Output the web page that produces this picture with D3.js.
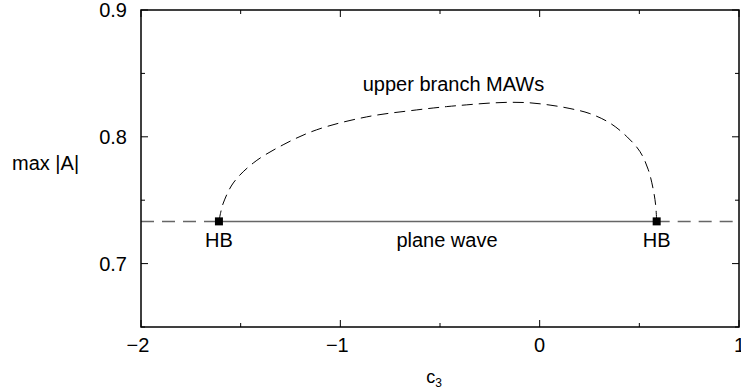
<!DOCTYPE html>
<html>
<head>
<meta charset="utf-8">
<script src="https://cdn.jsdelivr.net/npm/d3@7"></script>
<style>
  body { margin: 0; background: #fff; }
  text { font-family: "Liberation Sans", Arial, sans-serif; fill: #000; }
</style>
</head>
<body>
<div id="chart"></div>
<script>
const xTicks = [-2, -1, 0, 1];
const yTicks = [0.7, 0.8, 0.9];
const xMinor = [-1.5, -0.5, 0.5];
const yMinor = [0.65, 0.75, 0.85];

// Hopf bifurcation points on the plane wave branch
const hbPoints = [[-1.609, 0.7333], [0.587, 0.7333]];
const planeWaveA = 0.7333;

// upper branch of modulated amplitude waves (c3, max|A|)
const mawC3 = [-1.609, -1.600, -1.587, -1.537, -1.437, -1.287, -1.119, -0.868, -0.617, -0.467,
    -0.366, -0.259, -0.149, -0.049, 0.052, 0.152, 0.252, 0.353, 0.437, 0.503, 0.545, 0.570, 0.582, 0.587];
const mawA = [0.7333, 0.7405, 0.7478, 0.7636, 0.7793, 0.7937, 0.8055, 0.8157, 0.8212, 0.8238,
    0.8252, 0.8265, 0.8272, 0.8268, 0.8250, 0.8223, 0.8183, 0.8108, 0.8002, 0.7884, 0.7740, 0.7583, 0.7460, 0.7333];

const ctx = {
    w: 741, h: 389,
    margin: {top: 10, right: 2, bottom: 62, left: 141}
};

const svg = d3.select("#chart").append("svg")
    .attr("width", ctx.w)
    .attr("height", ctx.h);

const iw = ctx.w - ctx.margin.left - ctx.margin.right;
const ih = ctx.h - ctx.margin.top - ctx.margin.bottom;

const g = svg.append("g")
    .attr("transform", "translate(" + ctx.margin.left + "," + ctx.margin.top + ")");

const x = d3.scaleLinear().domain([-2, 1]).range([0, iw]);
const y = d3.scaleLinear().domain([0.65, 0.9]).range([ih, 0]);

// plane wave: dashed outside HBs, solid in between
const pwLine = d3.line().x(d => x(d[0])).y(d => y(d[1]));
g.append("path")
    .attr("d", pwLine([[-2, planeWaveA], [hbPoints[0][0], planeWaveA]]))
    .attr("stroke", "#666").attr("stroke-width", 1.5).attr("fill", "none")
    .attr("stroke-dasharray", "13,8");
g.append("path")
    .attr("d", pwLine([[hbPoints[1][0], planeWaveA], [1, planeWaveA]]))
    .attr("stroke", "#666").attr("stroke-width", 1.5).attr("fill", "none")
    .attr("stroke-dasharray", "13,8");
g.append("path")
    .attr("d", pwLine([[hbPoints[0][0], planeWaveA], [hbPoints[1][0], planeWaveA]]))
    .attr("stroke", "#666").attr("stroke-width", 1.5).attr("fill", "none");

// MAW branch
const mawData = mawC3.map((c, i) => [c, mawA[i]]);
g.append("path")
    .attr("d", d3.line().curve(d3.curveCatmullRom).x(d => x(d[0])).y(d => y(d[1]))(mawData))
    .attr("stroke", "#000").attr("stroke-width", 1).attr("fill", "none")
    .attr("stroke-dasharray", "11,6");

// HB markers
g.selectAll(".hb")
    .data(hbPoints)
    .enter()
    .append("rect")
    .attr("x", d => x(d[0]) - 4)
    .attr("y", d => y(d[1]) - 4)
    .attr("width", 8).attr("height", 8)
    .attr("fill", "#000");

g.selectAll(".hbLabel")
    .data(hbPoints)
    .enter()
    .append("text")
    .attr("x", d => x(d[0]))
    .attr("y", d => y(d[1]) + 26)
    .attr("text-anchor", "middle")
    .style("font-size", "20px")
    .text("HB");

g.append("text")
    .attr("x", x(-0.465))
    .attr("y", y(planeWaveA) + 26)
    .attr("text-anchor", "middle")
    .style("font-size", "20px")
    .text("plane wave");

g.append("text")
    .attr("x", x(-0.4325))
    .attr("y", 81)
    .attr("text-anchor", "middle")
    .style("font-size", "20px")
    .text("upper branch MAWs");

// frame and ticks
g.append("rect")
    .attr("x", 0).attr("y", 0).attr("width", iw).attr("height", ih)
    .attr("fill", "none").attr("stroke", "#000").attr("stroke-width", 1.5);

function tickMarks(values, len) {
    values.forEach(v => {
        g.append("line").attr("x1", x(v)).attr("x2", x(v)).attr("y1", ih).attr("y2", ih - len)
            .attr("stroke", "#000");
        g.append("line").attr("x1", x(v)).attr("x2", x(v)).attr("y1", 0).attr("y2", len)
            .attr("stroke", "#000");
    });
}
function yTickMarks(values, len) {
    values.forEach(v => {
        g.append("line").attr("y1", y(v)).attr("y2", y(v)).attr("x1", 0).attr("x2", len)
            .attr("stroke", "#000");
        g.append("line").attr("y1", y(v)).attr("y2", y(v)).attr("x1", iw).attr("x2", iw - len)
            .attr("stroke", "#000");
    });
}
tickMarks(xTicks, 7);
tickMarks(xMinor, 4);
yTickMarks(yTicks, 7);
yTickMarks(yMinor, 4);

g.selectAll(".xLabel")
    .data(xTicks)
    .enter()
    .append("text")
    .attr("x", d => x(d))
    .attr("y", ih + 25)
    .attr("text-anchor", d => d === 1 ? "start" : "middle")
    .attr("dx", d => d === 1 ? -5 : (d < 0 ? -3 : 0))
    .style("font-size", "20px")
    .text(d => d < 0 ? "\u2212" + Math.abs(d) : d);

g.selectAll(".yLabel")
    .data(yTicks)
    .enter()
    .append("text")
    .attr("x", -14)
    .attr("y", d => y(d) + 7)
    .attr("text-anchor", "end")
    .style("font-size", "20px")
    .text(d => d3.format(".1f")(d));

// axis titles
const xt = g.append("text")
    .attr("x", x(-0.53))
    .attr("y", ih + 56)
    .attr("text-anchor", "middle")
    .style("font-size", "18px");
xt.append("tspan").text("c");
xt.append("tspan").attr("dy", 4).style("font-size", "12px").text("3");

g.append("text")
    .attr("x", -129)
    .attr("y", y(0.7795) + 7)
    .style("font-size", "20px")
    .text("max |A|");
</script>
</body>
</html>
